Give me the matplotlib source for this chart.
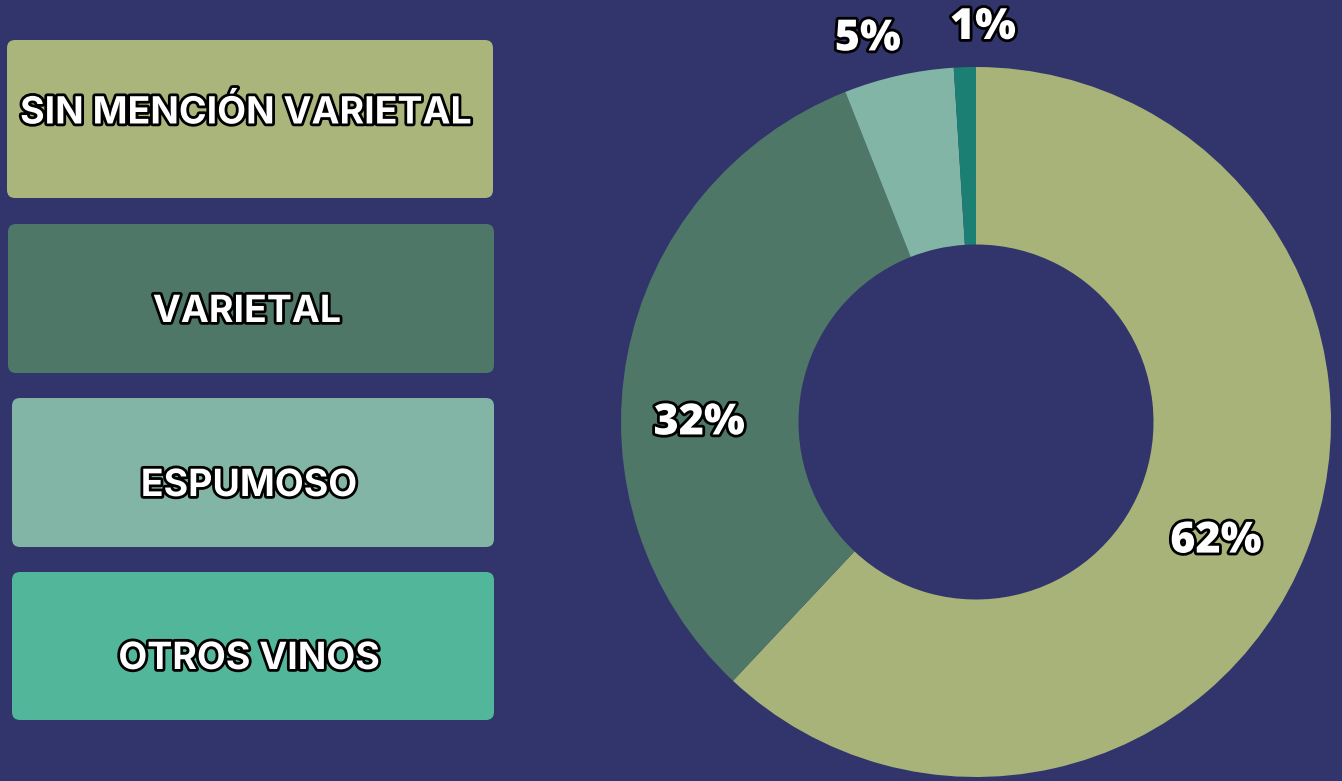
import numpy as np
import matplotlib.pyplot as plt
from matplotlib.patches import FancyBboxPatch
import matplotlib.patheffects as pe

# Datos
categorias = ['SIN MENCIÓN VARIETAL', 'VARIETAL', 'ESPUMOSO', 'OTROS VINOS']
valores = [62, 32, 5, 1]
etiquetas = ['62%', '32%', '5%', '1%']

colores_pie = ['#A7B378', '#4F7767', '#82B5A6', '#1B7F73']
colores_caja = ['#A9B57A', '#4F7767', '#82B5A6', '#52B69A']
fondo = '#32346C'

# posiciones de las etiquetas (radio, angulo) en unidades del pie
pos_etiquetas = [(0.755, -26.5), (0.78, 180.3), (1.12, 105.8), (1.11, 89.0)]

# cajas de la leyenda en pixeles: x, y (arriba), ancho, alto, y del texto
cajas = [(7, 40, 486, 158, 113), (8, 224, 486, 149, 312),
         (12, 398, 482, 149, 486), (12, 572, 482, 148, 659)]

W, H = 1342, 781
fig = plt.figure(figsize=(W / 100, H / 100), dpi=100)
fig.patch.set_facecolor(fondo)

contorno = [pe.withStroke(linewidth=4, foreground='black')]

# Leyenda a la izquierda
axl = fig.add_axes([0, 0, 1, 1])
axl.set_xlim(0, W)
axl.set_ylim(H, 0)
axl.axis('off')
for (x, y, w, h, ty), cat, c in zip(cajas, categorias, colores_caja):
    axl.add_patch(FancyBboxPatch((x + 8, y + 8), w - 16, h - 16,
                                 boxstyle='round,pad=8', fc=c, ec='none'))
    axl.text(x + w / 2 - 4, ty, cat, ha='center', va='center', color='white',
             fontsize=27, fontweight='bold', family=['Inter', 'DejaVu Sans'],
             path_effects=contorno)

# Dona
cx, cy, r = 976, 422, 355
ax = fig.add_axes([(cx - r) / W, (H - cy - r) / H, 2 * r / W, 2 * r / H])
ax.pie(valores, colors=colores_pie, startangle=90, counterclock=False,
       radius=1, wedgeprops=dict(width=0.5, edgecolor='none'))
ax.set_xlim(-1, 1)
ax.set_ylim(-1, 1)
ax.set_aspect('equal')
ax.axis('off')

for (rr, ang), txt in zip(pos_etiquetas, etiquetas):
    a = np.deg2rad(ang)
    ax.text(rr * np.cos(a), rr * np.sin(a), txt, ha='center', va='center',
            color='white', fontsize=31, fontweight='heavy',
            family=['Open Sans', 'DejaVu Sans'], path_effects=contorno,
            clip_on=False)

fig.savefig('out.png', dpi=100, facecolor=fondo)
